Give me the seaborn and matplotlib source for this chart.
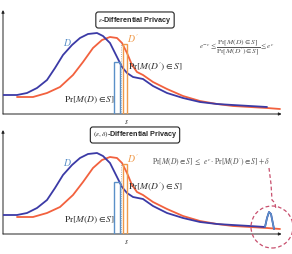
import matplotlib
matplotlib.use("Agg")
import matplotlib.pyplot as plt
import seaborn as sns
import pandas as pd
from matplotlib.patches import Rectangle, Circle

sns.set_theme(style="white")
plt.rcParams['font.family'] = ['DejaVu Sans']
plt.rcParams['mathtext.fontset'] = 'stix'

# ---- data ----
d_x = [0, 14, 24, 34, 44, 52, 60, 69, 77, 85, 94, 100, 107, 114, 119, 124, 130, 140, 150, 164, 180, 197, 214, 230, 247, 264]
d_y = [19, 19, 21, 26, 34, 46, 59, 69, 76, 80, 81, 78, 71, 57, 47, 41, 37, 35, 28, 21, 16, 12, 10, 9, 8, 7]
dp_x = [14, 30, 44, 57, 70, 80, 90, 99, 107, 114, 119, 124, 129, 134, 140, 150, 164, 180, 197, 214, 230, 247, 264, 277]
dp_y = [17, 17, 21, 27, 39, 52, 66, 74, 77, 76, 71, 61, 49, 42, 39, 32, 25, 18, 13, 10, 8, 7, 6, 5]
# delta bump at the tail of D (bottom panel)
bump_x = [262, 264, 266, 268, 270, 271]
bump_y = [7, 16, 22, 20, 10, 5]
s_pos = 118
prD = 52     # Pr[M(D) in S] box height
prDp = 70    # Pr[M(D') in S] box height

BLUE = '#3b3aa6'
RED = '#f2613e'
LBLUE = '#5a90c8'
ORANGE = '#f09a4a'

fig = plt.figure(figsize=(2.92, 2.54), dpi=100)
axes = [fig.add_axes([3/292, 140/254, 280/292, 104/254]),
        fig.add_axes([3/292, 20/254, 280/292, 104/254])]

for i, ax in enumerate(axes):
    if i == 0:
        dfD = pd.DataFrame({'x': d_x, 'y': d_y})
    else:
        dfD = pd.DataFrame({'x': d_x[:-1] + bump_x, 'y': d_y[:-1] + bump_y})
    dfDp = pd.DataFrame({'x': dp_x, 'y': dp_y})
    sns.lineplot(data=dfDp, x='x', y='y', ax=ax, color=RED, lw=1.3, sort=False, zorder=3)
    sns.lineplot(data=dfD, x='x', y='y', ax=ax, color=BLUE, lw=1.3, sort=False, zorder=4)
    if i == 1:
        ax.plot(bump_x, bump_y, color=LBLUE, lw=1.1, zorder=5)
    ax.set_xlim(0, 280)
    ax.set_ylim(0, 104)
    ax.set_axis_off()
    # axes arrows
    ax.annotate('', xy=(0, 1.0), xytext=(0, 0), xycoords='axes fraction',
                arrowprops=dict(arrowstyle='-|>', lw=0.7, color='#222222', mutation_scale=4, shrinkA=0, shrinkB=0))
    ax.annotate('', xy=(0.995, 0), xytext=(0, 0), xycoords='axes fraction',
                arrowprops=dict(arrowstyle='-|>', lw=0.7, color='#222222', mutation_scale=4, shrinkA=0, shrinkB=0))

    ax.add_patch(Rectangle((s_pos - 7, 0), 6, prD, fill=False, ec=LBLUE, lw=1.0, zorder=5))
    ax.add_patch(Rectangle((s_pos + 2, 0), 4, prDp, fill=False, ec=ORANGE, lw=1.0, zorder=5))
    ax.plot([s_pos, s_pos], [0, 72], color='#999999', lw=0.6, ls=':', zorder=4)

    ax.text(64, 71, '$D$', color=LBLUE, fontsize=7, ha='center', va='center')
    ax.text(130, 75, r"$D^{\prime}$", color=ORANGE, fontsize=7, ha='center', va='center')
    ax.text(87, 14, r'$\mathrm{Pr}[M(D)\in S]$', fontsize=6.8, ha='center', va='center', color='#333333')
    ax.text(125, 47, r"$\mathrm{Pr}[M(D^{\prime})\in S]$", fontsize=6.8, ha='left', va='center', color='#333333')
    ax.text(s_pos + 5, -8, '$s$', fontsize=5.5, ha='center', va='center', color='#333333')

    title = r'$\epsilon$-Differential Privacy' if i == 0 else r'$(\epsilon,\delta)$-Differential Privacy'
    ax.text(132, 94 if i == 0 else 99, title, fontsize=5.2, fontweight='bold', ha='center', va='center',
            family=['Liberation Sans'],
            bbox=dict(boxstyle='round,pad=0.35', fc='white', ec='#222222', lw=0.8))

axes[0].text(234, 67, r"$e^{-\epsilon}\leq\dfrac{\mathrm{Pr}[M(D)\in S]}{\mathrm{Pr}[M(D^{\prime})\in S]}\leq e^{\epsilon}$",
             fontsize=5.4, ha='center', va='center', color='#555555')
axes[1].text(149, 72, r"$\mathrm{Pr}[M(D)\in S]\ \leq\ e^{\epsilon}\cdot\mathrm{Pr}[M(D^{\prime})\in S]+\delta$",
             fontsize=5.5, ha='left', va='center', color='#555555')

# highlight circle and dashed pointer
ax = axes[1]
ax.add_patch(Circle((269, 7), 21, fill=False, ec='#c8506e', lw=0.9, ls=(0, (3, 2)), clip_on=False, zorder=6))
ax.plot([266, 268, 269, 272, 273], [66, 50, 34, 31, 24], color='#c8506e', lw=0.9, ls=(0, (3, 2)), clip_on=False, zorder=6)

fig.savefig('out.png', dpi=100)
